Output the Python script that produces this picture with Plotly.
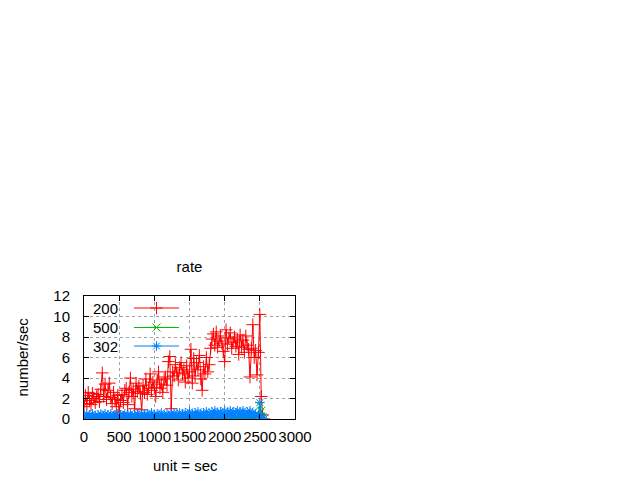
import plotly.graph_objects as go

# sample times (sec), one every 20 s
t = list(range(0, 2580, 20))

# status 200 per second
rate_200 = [
    1.2, 2.3, 1.5, 2.6, 1.8, 1.4, 2.5, 2.0, 1.6, 2.2,
    2.4, 1.7, 2.9, 4.5, 2.2, 3.4, 1.9, 2.8, 3.5, 2.1,
    1.5, 2.6, 1.9, 1.2, 2.3, 0.6, 1.8, 2.4, 1.6, 2.8,
    3.0, 1.4, 2.6, 4.0, 2.2, 2.9, 1.0, 3.5, 2.7, 3.2,
    2.5, 0.9, 3.3, 2.6, 3.9, 2.4, 3.0, 4.4, 2.8, 3.6,
    3.1, 2.2, 3.8, 4.6, 3.0, 3.4, 2.6, 3.9, 4.1, 3.3,
    5.6, 6.1, 1.0, 4.6, 4.2, 5.3, 4.5, 3.8, 5.0, 5.5,
    4.4, 4.8, 3.6, 5.2, 4.0, 4.6, 6.8, 3.5, 5.9, 4.2,
    5.5, 4.8, 6.2, 3.9, 2.8, 5.1, 4.4, 6.0, 4.6, 5.3,
    6.9, 7.8, 8.3, 7.2, 8.5, 7.0, 7.6, 8.1, 7.4, 6.6,
    5.6, 8.7, 7.3, 7.9, 8.4, 6.9, 7.5, 8.0, 7.1, 7.8,
    6.3, 8.2, 7.0, 7.7, 6.5, 8.1, 7.2, 6.8, 4.1, 6.9,
    9.2, 6.0, 6.7, 4.3, 6.5, 10.2, 2.2, 0.4, 0.0,
]

# status 500 per second
rate_500 = [
    0.0, 0.0, 0.1, 0.0, 0.0, 0.0, 0.1, 0.0, 0.0, 0.0,
    0.0, 0.1, 0.0, 0.0, 0.0, 0.0, 0.0, 0.1, 0.0, 0.0,
    0.0, 0.0, 0.0, 0.1, 0.0, 0.0, 0.0, 0.0, 0.1, 0.0,
    0.0, 0.0, 0.0, 0.0, 0.1, 0.0, 0.0, 0.0, 0.0, 0.0,
    0.1, 0.0, 0.0, 0.0, 0.0, 0.0, 0.1, 0.0, 0.0, 0.0,
    0.0, 0.0, 0.1, 0.0, 0.0, 0.0, 0.0, 0.0, 0.1, 0.0,
    0.0, 0.0, 0.0, 0.1, 0.0, 0.0, 0.0, 0.0, 0.0, 0.1,
    0.0, 0.0, 0.0, 0.0, 0.1, 0.0, 0.0, 0.0, 0.0, 0.0,
    0.1, 0.0, 0.0, 0.0, 0.0, 0.0, 0.1, 0.0, 0.0, 0.0,
    0.0, 0.1, 0.0, 0.0, 0.0, 0.2, 0.0, 0.0, 0.1, 0.0,
    0.0, 0.0, 0.1, 0.0, 0.0, 0.0, 0.2, 0.0, 0.0, 0.1,
    0.0, 0.0, 0.0, 0.1, 0.0, 0.0, 0.0, 0.2, 0.0, 0.0,
    0.0, 0.1, 0.0, 0.2, 0.3, 1.3, 0.8, 0.2, 0.0,
]

# status 302 per second
rate_302 = [
    0.3, 0.1, 0.5, 0.2, 0.4, 0.0, 0.5, 0.2, 0.3, 0.1,
    0.4, 0.2, 0.5, 0.0, 0.3, 0.5, 0.1, 0.4, 0.2, 0.5,
    0.1, 0.3, 0.4, 0.0, 0.5, 0.2, 0.4, 0.1, 0.3, 0.5,
    0.2, 0.4, 0.0, 0.5, 0.3, 0.1, 0.4, 0.2, 0.5, 0.3,
    0.1, 0.5, 0.2, 0.4, 0.0, 0.5, 0.3, 0.1, 0.6, 0.2,
    0.4, 0.1, 0.5, 0.3, 0.0, 0.6, 0.2, 0.4, 0.1, 0.5,
    0.3, 0.0, 0.5, 0.2, 0.6, 0.1, 0.4, 0.3, 0.6, 0.0,
    0.5, 0.2, 0.6, 0.1, 0.4, 0.7, 0.2, 0.5, 0.0, 0.6,
    0.3, 0.7, 0.1, 0.5, 0.2, 0.6, 0.0, 0.7, 0.3, 0.5,
    0.1, 0.7, 0.4, 0.8, 0.2, 0.6, 0.0, 0.7, 0.5, 0.3,
    0.8, 0.1, 0.6, 0.4, 0.8, 0.2, 0.7, 0.0, 0.6, 0.8,
    0.3, 0.7, 0.1, 0.8, 0.5, 0.2, 0.7, 0.4, 0.8, 0.1,
    0.6, 0.3, 0.5, 0.2, 0.4, 1.6, 0.3, 0.1, 0.0,
]

names = ['200', '500', '302']
colors = ['rgb(255,0,0)', 'rgb(0,192,0)', 'rgb(0,128,255)']
symbols = ['cross-thin', 'x-thin', 'asterisk-open']
sizes = [9, 8, 8]
FONT = dict(family='Liberation Sans, Arial, sans-serif', size=15, color='black')

# plot box in page pixels (gnuplot style small box)
L, R, T, B = 84, 295, 296, 419
W, H = R - L, B - T


def px_x(p):
    return (p - L) / W


def px_y(p):
    return (B - p) / H


fig = go.Figure()
for name, ys, c, s, sz in zip(names, [rate_200, rate_500, rate_302], colors, symbols, sizes):
    fig.add_trace(go.Scatter(
        x=t, y=ys, mode='lines+markers', name=name,
        line=dict(color=c, width=1),
        marker=dict(symbol=s, size=sz, color=c, line=dict(color=c, width=1)),
    ))

# legend keys, gnuplot style: label on left, sample on right
key_rows = [308, 327.5, 346]
for name, c, s, sz, py in zip(names, colors, symbols, sizes, key_rows):
    yk = px_y(py)
    fig.add_shape(type='line', xref='paper', yref='paper',
                  x0=px_x(134), x1=px_x(179), y0=yk, y1=yk,
                  line=dict(color=c, width=1))
    fig.add_trace(go.Scatter(
        x=[px_x(156.5)], y=[yk], xaxis='x2', yaxis='y2',
        mode='markers', showlegend=False,
        marker=dict(symbol=s, size=sz, color=c, line=dict(color=c, width=1)),
    ))
    fig.add_annotation(x=px_x(120), y=yk, xref='paper', yref='paper',
                       text=name, showarrow=False, xanchor='right', yanchor='middle',
                       font=FONT)

axis_common = dict(
    showline=True, linecolor='black', linewidth=1, mirror='ticks',
    ticks='inside', ticklen=5, tickcolor='black', tickwidth=1,
    showgrid=True, gridcolor='#a0a0a0', gridwidth=1, griddash='3px,3px',
    zeroline=False, tickfont=FONT, tickangle=0,
)

fig.update_layout(
    width=640, height=480,
    paper_bgcolor='white', plot_bgcolor='white',
    margin=dict(l=L, r=640 - R, t=T, b=480 - B),
    showlegend=False,
    title=dict(text='rate', x=(L + R) / 2 / 640, xanchor='center',
               y=1 - 267 / 480, yanchor='middle', font=FONT),
    xaxis=dict(range=[0, 3000], dtick=500, tick0=0, ticklabelstandoff=4, **axis_common),
    yaxis=dict(range=[0, 12], dtick=2, tick0=0, ticklabelstandoff=10, **axis_common),
    xaxis2=dict(range=[0, 1], overlaying='x', visible=False),
    yaxis2=dict(range=[0, 1], overlaying='y', visible=False),
)

fig.add_annotation(x=px_x(22), y=0.5, xref='paper', yref='paper', text='number/sec',
                   textangle=-90, showarrow=False, xanchor='center', yanchor='middle',
                   font=FONT)
fig.add_annotation(x=px_x(185), y=px_y(465), xref='paper', yref='paper',
                   text='unit = sec', showarrow=False, xanchor='center', yanchor='middle',
                   font=FONT)

# drop the browser's default 8px body margin so the figure sits at the page corner
fig.write_html("out.html", config={'displayModeBar': False},
               post_script="document.body.style.margin='0px';")
